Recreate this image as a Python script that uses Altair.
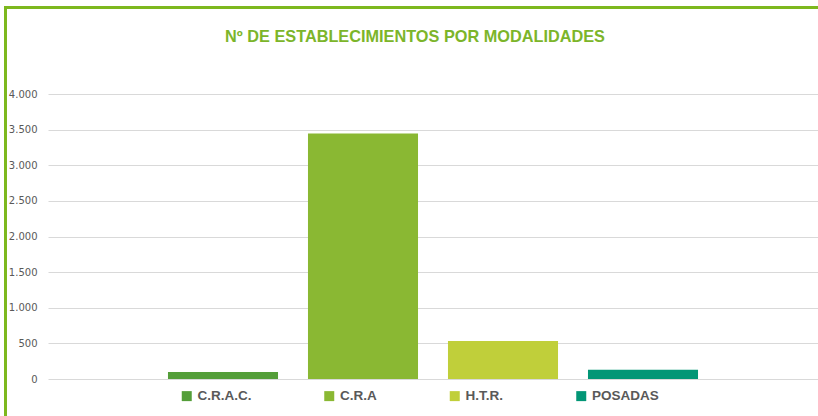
import altair as alt
import pandas as pd

# Establishments per lodging type
titulo = "Nº DE ESTABLECIMIENTOS POR MODALIDADES"
modalidades = ["C.R.A.C.", "C.R.A", "H.T.R.", "POSADAS"]
establecimientos = [100, 3445, 535, 130]
colores = ["#549E39", "#8AB833", "#C0CF3A", "#029676"]
ticks_y = [0, 500, 1000, 1500, 2000, 2500, 3000, 3500, 4000]

df = pd.DataFrame({"modalidad": modalidades, "n": establecimientos})

TEXT_GREY = "#595959"
FRAME_GREEN = "#7DB81E"
TITLE_GREEN = "#7CB52A"

bars = alt.Chart(df).mark_bar().encode(
    x=alt.X(
        "modalidad:N",
        sort=modalidades,
        axis=None,
        scale=alt.Scale(paddingInner=0.214, paddingOuter=0.857),
    ),
    y=alt.Y(
        "n:Q",
        scale=alt.Scale(domain=[0, 4000], nice=False),
        axis=alt.Axis(
            title=None,
            values=ticks_y,
            labelExpr="replace(format(datum.value, ','), ',', '.')",
            domain=False,
            ticks=False,
            grid=True,
            gridColor="#D9D9D9",
            gridWidth=1,
            labelPadding=11,
            labelColor=TEXT_GREY,
            labelFont="DejaVu Sans",
            labelFontSize=10,
        ),
    ),
    color=alt.Color(
        "modalidad:N",
        sort=modalidades,
        scale=alt.Scale(domain=modalidades, range=colores),
        legend=alt.Legend(
            title=None,
            orient="none",
            legendX=132,
            legendY=295,
            direction="horizontal",
            columns=4,
            symbolType="square",
            symbolSize=100,
            symbolStrokeWidth=0,
            symbolOpacity=1,
            labelFont="Liberation Sans",
            labelFontWeight="bold",
            labelFontSize=13.5,
            labelColor=TEXT_GREY,
            labelOffset=4,
            columnPadding=70.5,
        ),
    ),
)

# Chart heading, centred above the plot
heading = alt.Chart(pd.DataFrame({"t": [titulo]})).mark_text(
    color=TITLE_GREEN,
    font="Liberation Sans",
    fontSize=16.3,
    fontWeight="bold",
    align="center",
    baseline="middle",
).encode(text="t:N", x=alt.value(367), y=alt.value(-57))

# Green frame around the chart (left and top edges)
frame_left = alt.Chart(df).mark_rule(color=FRAME_GREEN, strokeWidth=3, clip=False).encode(
    x=alt.value(-42.5), y=alt.value(-88), y2=alt.value(330)
)
frame_top = alt.Chart(df).mark_rule(color=FRAME_GREEN, strokeWidth=3, clip=False).encode(
    x=alt.value(-44), x2=alt.value(780), y=alt.value(-86.5)
)

chart = (
    alt.layer(bars, heading, frame_left, frame_top)
    .properties(
        width=770,
        height=285,
        autosize=alt.AutoSizeParams(type="none"),
        padding={"left": 48, "top": 94, "right": 0, "bottom": 37},
        background="white",
    )
    .configure_view(stroke=None)
)

chart.save("out.html", embed_options={"renderer": "svg", "actions": False})
